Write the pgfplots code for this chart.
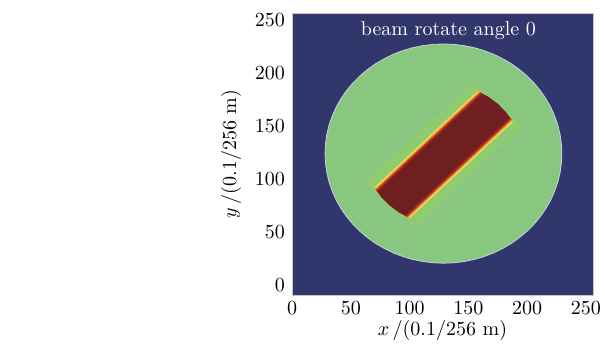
\documentclass[border=0pt]{standalone}
\usepackage{pgfplots}
\pgfplotsset{compat=1.18}
\definecolor{navy}{RGB}{49,54,108}
\definecolor{cgreen}{RGB}{137,198,127}
\definecolor{lgreen}{RGB}{145,203,113}
\definecolor{dred}{RGB}{112,31,32}
\definecolor{cedge}{RGB}{195,212,222}
\definecolor{e0}{RGB}{196,220,100}
\definecolor{e1}{RGB}{236,226,80}
\definecolor{e2}{RGB}{244,160,52}
\definecolor{e3}{RGB}{212,70,38}
\definecolor{e4}{RGB}{158,40,34}
\begin{document}
\begin{tikzpicture}
\useasboundingbox (0,0) rectangle (302.5pt,172pt);
\begin{axis}[
  at={(146pt,24.5pt)}, anchor=south west,
  scale only axis, width=150.5pt, height=141pt,
  xmin=0, xmax=256, ymin=-9.4, ymax=256.6,
  xtick={0,50,...,250}, ytick={0,50,...,250},
  axis background/.style={fill=navy},
  axis line style={draw=gray!45, line width=0.4pt},
  tick style={draw=none},
  xlabel={$x$\,/(0.1/256 m)},
  ylabel={$y$\,/(0.1/256 m)},
  xlabel style={yshift=4pt},
  clip=true,
]
% outer disc
\addplot[fill=cgreen, draw=cedge, line width=0.4pt] coordinates {
(229.5,124.0) (229.1,133.0) (228.0,142.0) (226.1,150.8) (223.4,159.4) (220.1,167.7)
(216.0,175.7) (211.3,183.3) (205.9,190.5) (200.0,197.1) (193.5,203.2) (186.6,208.7)
(179.2,213.5) (171.4,217.7) (163.2,221.2) (154.9,223.9) (146.3,225.8) (137.6,227.0)
(128.8,227.4) (120.0,227.0) (111.3,225.8) (102.7,223.9) (94.4,221.2) (86.2,217.7)
(78.5,213.5) (71.0,208.7) (64.1,203.2) (57.6,197.1) (51.7,190.5) (46.3,183.3)
(41.6,175.7) (37.5,167.7) (34.2,159.4) (31.5,150.8) (29.6,142.0) (28.5,133.0)
(28.1,124.0) (28.5,115.0) (29.6,106.0) (31.5,97.2) (34.2,88.6) (37.5,80.3)
(41.6,72.3) (46.3,64.7) (51.7,57.5) (57.6,50.9) (64.1,44.8) (71.0,39.3)
(78.5,34.5) (86.2,30.3) (94.4,26.8) (102.7,24.1) (111.3,22.2) (120.0,21.0)
(128.8,20.6) (137.6,21.0) (146.3,22.2) (154.9,24.1) (163.2,26.8) (171.4,30.3)
(179.2,34.5) (186.6,39.3) (193.5,44.8) (200.0,50.9) (205.9,57.5) (211.3,64.7)
(216.0,72.3) (220.1,80.3) (223.4,88.6) (226.1,97.2) (228.0,106.0) (229.1,115.0)
(229.5,124.0)} -- cycle;
% lighter square around beam
\addplot[fill=lgreen, draw=none] coordinates {
(153.27,191.31) (196.43,149.63) (104.73,54.69) (61.57,96.37) (153.27,191.31)} -- cycle;
% beam
\addplot[fill=dred, draw=none] coordinates {
(187.7,154.3) (182.1,163.0) (175.2,170.8) (167.1,177.5) (158.2,182.7)
(70.3,91.7) (75.9,83.0) (82.8,75.2) (90.9,68.5) (99.8,63.3) (187.7,154.3)} -- cycle;
% edge gradients
\addplot[e0, line width=0.5pt] coordinates {(70.30,91.80) (158.20,182.80)};
\addplot[e1, line width=0.7pt] coordinates {(70.55,91.27) (158.67,182.51)};
\addplot[e2, line width=0.7pt] coordinates {(71.06,90.36) (159.60,182.04)};
\addplot[e3, line width=0.7pt] coordinates {(71.58,89.45) (160.52,181.55)};
\addplot[e4, line width=0.7pt] coordinates {(72.11,88.57) (161.43,181.05)};
\addplot[e0, line width=0.5pt] coordinates {(99.80,63.20) (187.70,154.20)};
\addplot[e1, line width=0.7pt] coordinates {(99.33,63.49) (187.45,154.73)};
\addplot[e2, line width=0.7pt] coordinates {(98.40,63.96) (186.94,155.64)};
\addplot[e3, line width=0.7pt] coordinates {(97.48,64.45) (186.42,156.55)};
\addplot[e4, line width=0.7pt] coordinates {(96.57,64.95) (185.89,157.43)};
\node[white, anchor=base] at (axis cs:133,235) {beam rotate angle 0};
\end{axis}
\end{tikzpicture}
\end{document}
